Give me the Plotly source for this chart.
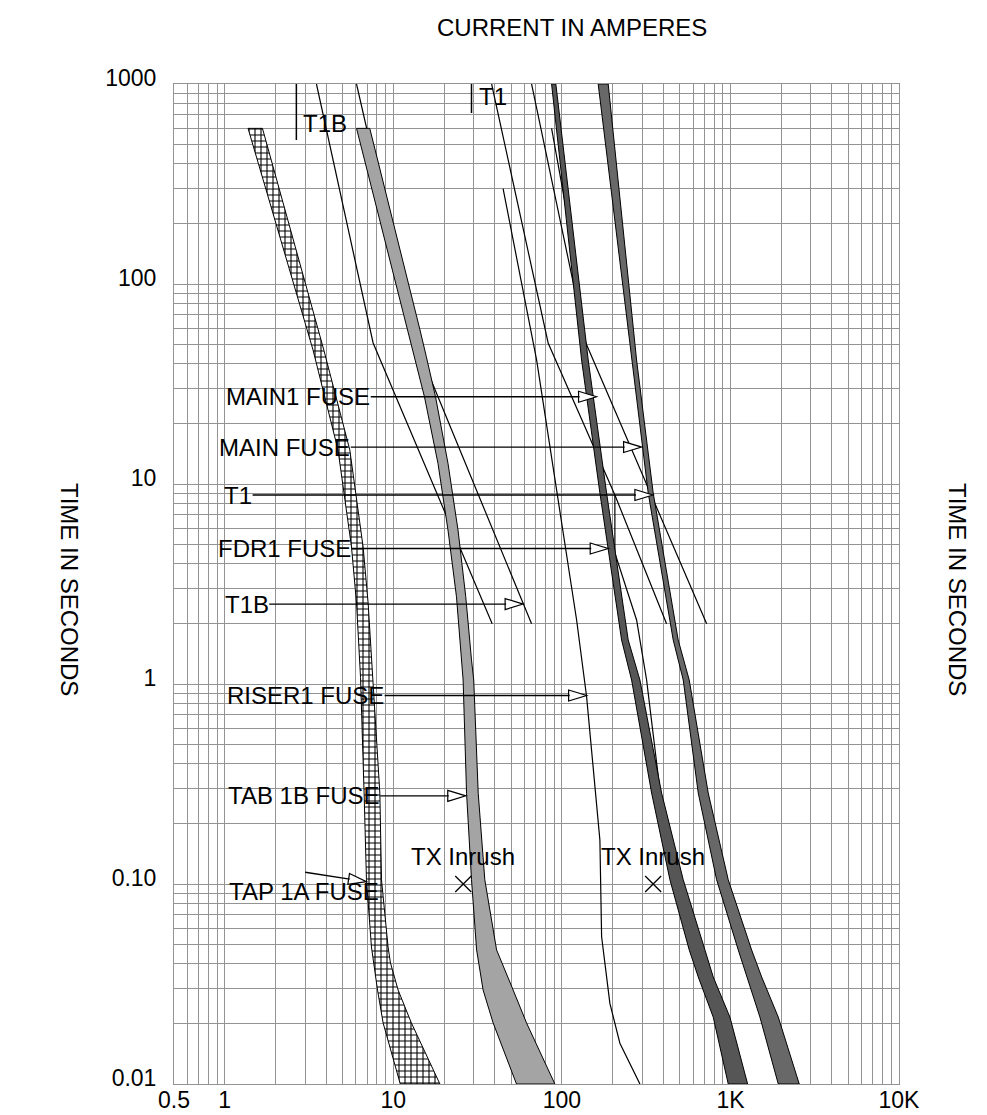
import math
import plotly.graph_objects as go

FONT = "Liberation Sans, Arial, Helvetica, sans-serif"

# ---------------- data: current (A) versus time (s) ----------------
# TAP 1A FUSE (cross-hatched band)
tap1a_time = [600, 46.8, 14.8, 4.84, 2.54, 1.08, 0.285, 0.105, 0.0484, 0.0403, 0.0295, 0.0202, 0.01]
tap1a_min_amps = [1.375, 3.34, 4.70, 5.65, 6.05, 6.39, 6.71, 6.93, 7.42, 7.66, 8.06, 8.70, 11.0]
tap1a_clear_amps = [1.674, 3.87, 5.52, 6.62, 7.09, 7.53, 8.32, 8.51, 9.31, 9.62, 10.68, 12.8, 18.9]

# TAB 1B FUSE (light grey band)
tab1b_time = [600, 58.9, 43.3, 27.3, 12.7, 5.89, 2.73, 1.32, 1.047, 0.284, 0.105, 0.0468, 0.0295, 0.0202, 0.01]
tab1b_min_amps = [6.05, 12.24, 13.4, 15.3, 18.4, 21.1, 23.7, 25.4, 25.95, 27.2, 29.1, 31.2, 34.1, 39.1, 53.8]
tab1b_clear_amps = [7.25, 14.4, 15.7, 17.8, 21.1, 24.2, 26.9, 29.1, 30.0, 31.9, 34.9, 41.0, 51.4, 61.7, 90.9]

# dark bands: MAIN1 / FDR1 FUSE and MAIN FUSE
band_time = [1000, 41.7, 9.02, 1.66, 1.047, 0.285, 0.105, 0.0468, 0.0343, 0.0216, 0.01]
main1_min_amps = [86.9, 130.9, 168.1, 226.1, 259.2, 340.7, 437.5, 569.5, 644.2, 790.6, 970.5]
main1_clear_amps = [92.1, 143.3, 184.2, 247.5, 290.4, 390.6, 524.8, 705.9, 790.6, 993, 1265]
main_min_amps = [164.2, 259.2, 325.2, 457.6, 524.8, 644.2, 828.1, 1112.8, 1248, 1496, 1922]
main_clear_amps = [188.3, 277.5, 348.2, 489.9, 569.5, 738.3, 970.5, 1336, 1532, 1922, 2560]

# FDR1 FUSE start curve (thin)
fdr1_amps = [86.9, 122.3]
fdr1_time = [600, 122]

# RISER1 FUSE (single curve)
riser1_amps = [44.8, 70.8, 122.3, 140.2, 168.1, 172.1, 192.7, 220.9, 290.4]
riser1_time = [300, 41.7, 2.09, 0.864, 0.166, 0.0545, 0.0253, 0.016, 0.01]

# transformer damage curves
t1b_a_amps = [3.50, 7.59, 38.6]
t1b_a_time = [1000, 50.7, 2.0]
t1b_b_amps = [6.05, 13.6, 66.1]
t1b_b_time = [1000, 50.7, 2.0]
t1_a_amps = [38.3, 82.9, 206.3, 418]
t1_a_time = [1000, 50.7, 8.81, 2.0]
t1_dog_amps = [206.3, 206.3, 277.5, 318.2, 381.6, 397.6]
t1_dog_time = [8.81, 4.52, 2.09, 1.047, 0.295, 0.229]
t1_b_amps = [66.1, 138.8, 722.6]
t1_b_time = [1000, 50.7, 2.0]

# full-load current markers
fla_names = ["T1B", "T1"]
fla_amps = [2.66, 29.1]
fla_time_low = [525, 716]
fla_label_time = [638, 871]

# transformer inrush points
inrush_amps = [26, 348]
inrush_time = [0.1, 0.1]

# labelled arrows: label, text centre (A), tip current (A), time (s)
arrow_labels = ["MAIN1 FUSE", "MAIN FUSE", "T1", "FDR1 FUSE", "T1B", "RISER1 FUSE", "TAB 1B FUSE"]
arrow_text_amps = [2.73, 2.27, 1.20, 2.27, 1.35, 3.02, 2.94]
arrow_tip_amps = [160.6, 297.2, 346.7, 188.3, 58.9, 140.2, 26.9]
arrow_time = [27.3, 15.3, 8.81, 4.76, 2.51, 0.876, 0.276]

tap_label = "TAP 1A FUSE"
tap_label_amps = 2.94
tap_label_time = 0.0915
tap_arrow_from = (2.94, 0.1148)
tap_arrow_to = (6.93, 0.1027)

# axis ticks
x_tick_labels = {0.5: "0.5", 1: "1", 10: "10", 100: "100", 1000: "1K", 10000: "10K"}
y_tick_labels = {0.01: "0.01", 0.1: "0.10", 1: "1", 10: "10", 100: "100", 1000: "1000"}

# ---------------- figure ----------------
fig = go.Figure()


def band(lo, hi, t, **kw):
    xs = list(lo) + list(hi)[::-1] + [lo[0]]
    ys = list(t) + list(t)[::-1] + [t[0]]
    fig.add_trace(go.Scatter(x=xs, y=ys, mode="lines", fill="toself",
                             line=dict(color="black", width=1), hoverinfo="skip", **kw))


def curve(xs, ys, width=1.2):
    fig.add_trace(go.Scatter(x=xs, y=ys, mode="lines", line=dict(color="black", width=width),
                             hoverinfo="skip"))


# thin curves first (bands cover them)
curve(t1b_a_amps, t1b_a_time)
curve(t1b_b_amps, t1b_b_time)
curve(t1_a_amps, t1_a_time)
curve(t1_dog_amps, t1_dog_time)
curve(t1_b_amps, t1_b_time)
curve(riser1_amps, riser1_time)
curve(fdr1_amps, fdr1_time)
for a, tl in zip(fla_amps, fla_time_low):
    curve([a, a], [1000, tl], width=1.5)

band(tap1a_min_amps, tap1a_clear_amps, tap1a_time,
     fillcolor="white",
     fillpattern=dict(shape="+", bgcolor="white", fgcolor="black", size=6, solidity=0.33))
band(tab1b_min_amps, tab1b_clear_amps, tab1b_time, fillcolor="#a4a4a4")
band(main1_min_amps, main1_clear_amps, band_time, fillcolor="#565656")
band(main_min_amps, main_clear_amps, band_time, fillcolor="#686868")

fig.add_trace(go.Scatter(x=inrush_amps, y=inrush_time, mode="markers",
                         marker=dict(symbol="x-thin-open", size=16, color="black",
                                     line=dict(color="black", width=1.3)),
                         hoverinfo="skip"))

ann = []
shapes = []
tri_len, tri_half = 18, 5.5


def triangle(tip_a, tip_t, angle_deg=0.0):
    th = math.radians(angle_deg)
    dx, dy = math.cos(th), -math.sin(th)     # pixel frame, y up
    px, py = -dy, dx
    bx, by = -tri_len * dx, -tri_len * dy
    p1 = (bx + tri_half * px, by + tri_half * py)
    p2 = (bx - tri_half * px, by - tri_half * py)
    path = "M%.2f,%.2f L0,0 L%.2f,%.2f Z" % (p1[0], p1[1], p2[0], p2[1])
    shapes.append(dict(type="path", xref="x", yref="y", xsizemode="pixel", ysizemode="pixel",
                       xanchor=tip_a, yanchor=tip_t, path=path, fillcolor="white",
                       line=dict(color="black", width=1.2), layer="above"))


LABEL_FONT = dict(family=FONT, size=24, color="black")

for lab, ta, tip, tt in zip(arrow_labels, arrow_text_amps, arrow_tip_amps, arrow_time):
    ann.append(dict(x=math.log10(tip), y=math.log10(tt), ax=math.log10(ta), ay=math.log10(tt),
                    axref="x", ayref="y", xref="x", yref="y", text=lab, showarrow=True,
                    arrowhead=0, arrowwidth=1.3, arrowcolor="black", standoff=17,
                    font=LABEL_FONT, borderpad=0))
    triangle(tip, tt)

# TAP 1A label and slanted arrow
ann.append(dict(x=math.log10(tap_label_amps), y=math.log10(tap_label_time), xref="x", yref="y",
                text=tap_label, showarrow=False, font=LABEL_FONT))
ann.append(dict(x=math.log10(tap_arrow_to[0]), y=math.log10(tap_arrow_to[1]),
                ax=math.log10(tap_arrow_from[0]), ay=math.log10(tap_arrow_from[1]),
                axref="x", ayref="y", xref="x", yref="y", text="", showarrow=True,
                arrowhead=0, arrowwidth=1.3, arrowcolor="black", standoff=17))
triangle(tap_arrow_to[0], tap_arrow_to[1], 8.8)

# inrush labels
for a, t in zip(inrush_amps, inrush_time):
    ann.append(dict(x=math.log10(a), y=math.log10(t), xref="x", yref="y", text="TX Inrush",
                    showarrow=False, yshift=28, font=LABEL_FONT))

# FLA labels
for name, a, t in zip(fla_names, fla_amps, fla_label_time):
    ann.append(dict(x=math.log10(a), y=math.log10(t), xref="x", yref="y", text=name,
                    showarrow=False, xanchor="left", xshift=5, font=LABEL_FONT))

# titles
ann.append(dict(x=0.549, y=1.057, xref="paper", yref="paper", text="CURRENT IN AMPERES",
                xanchor="center", yanchor="middle",
                showarrow=False, font=dict(family=FONT, size=24, color="black")))
for xp in (-0.1434, 1.0814):
    ann.append(dict(x=xp, y=0.495, xref="paper", yref="paper", text="TIME IN SECONDS",
                    textangle=90, showarrow=False, xanchor="center", yanchor="middle",
                    font=dict(family=FONT, size=24, color="black")))

# grid values
x_grid = sorted({round(m * 10 ** e, 6) for e in range(-1, 4) for m in range(1, 10)
                 if 0.5 <= m * 10 ** e <= 10000} | {10000})
y_grid = sorted({round(m * 10 ** e, 6) for e in range(-2, 3) for m in range(1, 10)} | {1000})
x_text = [x_tick_labels.get(v, "") for v in x_grid]
y_text = [y_tick_labels.get(v, "") for v in y_grid]

grid_col = "#939393"
fig.update_layout(
    template="none",
    width=987, height=1115,
    margin=dict(l=174, r=88, t=84, b=31, autoexpand=False),
    paper_bgcolor="white", plot_bgcolor="white",
    showlegend=False, hovermode=False,
    annotations=ann, shapes=shapes,
    font=dict(family=FONT, color="black"),
)
fig.update_xaxes(type="log", range=[math.log10(0.5), 4], tickmode="array", automargin=False,
                 tickvals=x_grid, ticktext=x_text, showgrid=True, gridcolor=grid_col,
                 gridwidth=1, zeroline=False, showline=True, linecolor=grid_col, mirror=True,
                 ticks="", tickfont=dict(family=FONT, size=23, color="black"),
                 ticklabelstandoff=-5)
fig.update_yaxes(type="log", range=[-2, 3], tickmode="array", automargin=False,
                 tickvals=y_grid, ticktext=y_text, showgrid=True, gridcolor=grid_col,
                 gridwidth=1, zeroline=False, showline=True, linecolor=grid_col, mirror=True,
                 ticks="", tickfont=dict(family=FONT, size=23, color="black"),
                 ticklabelstandoff=12, ticklabelshift=-6)

fig.write_html("out.html", config={"displayModeBar": False, "staticPlot": True},
               post_script="document.body.style.margin='0px';")
